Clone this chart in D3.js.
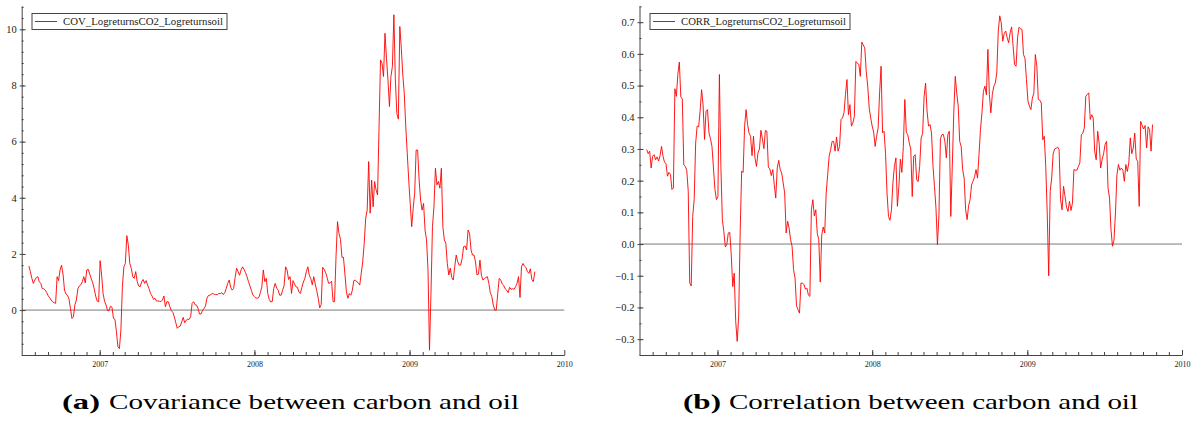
<!DOCTYPE html>
<html>
<head>
<meta charset="utf-8">
<script src="https://cdn.jsdelivr.net/npm/d3@7"></script>
<style>
  body { margin: 0; background: #fff; }
  svg { display: block; }
</style>
</head>
<body>
<svg id="chart" width="1201" height="421"></svg>
<script>
// samples every 3.5 days, starting 18 July 2006
const startDate = Date.UTC(2006, 6, 18);
const stepHours = 84;

const covValues = [
  1.57, 1.37, 1.13, 0.95, 1.07, 1.16, 1.19, 1.01, 0.95, 0.77,
  0.76, 0.71, 0.62, 0.51, 0.44, 0.36, 0.29, 0.26, 0.24, 1.19,
  1.05, 1.43, 1.6, 1.28, 0.71, 0.57, 0.52, 0.4, 0.06, -0.3,
  -0.24, 0.19, 0.36, 0.76, 0.86, 0.9, 1.01, 1.19, 0.97, 1.43,
  1.45, 1.28, 1.12, 0.97, 0.76, 0.5, 0.32, 0.29, 1.76, 1.25,
  0.59, 0.31, 0.18, -0.02, -0.02, 0.14, 0.1, -0.3, -0.33, -0.77,
  -1.31, -1.37, -0.71, 0.83, 1.54, 1.66, 2.65, 2.32, 1.66, 1.49,
  1.19, 1.13, 1.37, 1.01, 0.86, 0.83, 1.01, 1.09, 0.95, 1.05,
  0.89, 0.76, 0.59, 0.5, 0.38, 0.42, 0.32, 0.33, 0.31, 0.3,
  0.36, 0.5, 0.12, 0.3, 0.29, 0.12, -0.02, -0.08, -0.24, -0.45,
  -0.65, -0.59, -0.57, -0.42, -0.26, -0.45, -0.36, -0.33, -0.33, -0.24,
  0.24, 0.3, 0.19, 0.18, 0.06, -0.14, -0.14, -0.02, 0.06, 0.14,
  0.42, 0.52, 0.53, 0.57, 0.59, 0.56, 0.55, 0.55, 0.59, 0.59,
  0.62, 0.55, 0.62, 0.77, 0.95, 1.07, 0.81, 0.71, 0.77, 1.16,
  1.49, 1.37, 1.24, 1.43, 1.54, 1.45, 1.33, 1.19, 1.01, 0.86,
  0.69, 0.53, 0.48, 0.43, 0.42, 0.45, 0.62, 0.83, 1.43, 1.01,
  1.13, 0.59, 0.38, 0.29, 0.3, 0.77, 0.95, 0.78, 0.71, 0.53,
  0.53, 0.71, 0.87, 1.54, 1.43, 1.09, 1.19, 0.59, 1.05, 0.93,
  0.83, 0.81, 0.64, 0.59, 0.81, 1.0, 1.13, 1.37, 1.54, 1.24,
  1.12, 0.9, 1.19, 0.93, 0.69, 0.42, 0.08, 0.2, 1.52, 1.45,
  1.33, 1.16, 0.95, 0.97, 1.03, 0.3, 0.3, 1.9, 3.15, 2.73,
  2.52, 1.88, 1.88, 1.28, 0.65, 0.42, 0.59, 0.53, 0.71, 1.05,
  1.07, 1.01, 0.97, 0.89, 1.31, 1.72, 2.38, 3.27, 3.56, 5.29,
  3.45, 4.63, 3.68, 4.58, 4.28, 4.1, 6.54, 8.91, 8.79, 8.32,
  9.86, 8.97, 8.2, 7.25, 8.32, 8.68, 10.52, 8.2, 7.0, 6.8,
  10.1, 9.33, 8.38, 7.72, 6.54, 5.59, 4.63, 3.8, 2.97, 3.62,
  4.16, 5.7, 5.7, 4.63, 3.92, 3.56, 3.8, 2.85, 2.5, 1.43,
  -1.43, 0.59, 2.97, 3.68, 5.05, 4.46, 4.58, 4.34, 5.05, 2.97,
  2.5, 2.38, 1.66, 1.25, 1.49, 1.16, 1.07, 1.54, 1.96, 1.72,
  1.6, 1.6, 1.84, 2.26, 2.28, 2.14, 2.85, 2.73, 2.14, 1.96,
  1.96, 1.72, 1.25, 1.28, 1.78, 1.24, 1.07, 1.12, 1.16, 1.19,
  0.95, 0.62, 0.48, 0.18, 0.0, 0.0, 0.59, 1.13, 1.07, 0.93,
  0.88, 0.76, 0.71, 0.62, 0.81, 0.74, 0.76, 0.74, 0.83, 0.95,
  1.19, 0.45, 1.54, 1.66, 1.57, 1.52, 1.37, 1.31, 1.47, 1.09,
  1.01, 1.37
];

const corrValues = [
  0.298, 0.285, 0.293, 0.24, 0.277, 0.282, 0.266, 0.275, 0.262, 0.279,
  0.308, 0.277, 0.258, 0.254, 0.214, 0.226, 0.22, 0.172, 0.177, 0.49,
  0.466, 0.535, 0.574, 0.464, 0.458, 0.25, 0.245, 0.233, 0.166, -0.123,
  -0.132, 0.087, 0.14, 0.319, 0.372, 0.37, 0.419, 0.487, 0.44, 0.33,
  0.419, 0.424, 0.35, 0.332, 0.308, 0.24, 0.172, 0.14, 0.15, 0.535,
  0.245, 0.077, 0.04, -0.009, -0.002, 0.035, 0.037, -0.034, -0.134, -0.092,
  -0.244, -0.307, -0.228, 0.035, 0.23, 0.226, 0.372, 0.424, 0.377, 0.35,
  0.34, 0.279, 0.34, 0.271, 0.245, 0.287, 0.3, 0.359, 0.332, 0.301,
  0.358, 0.356, 0.243, 0.237, 0.216, 0.235, 0.187, 0.145, 0.24, 0.264,
  0.235, 0.224, 0.193, 0.161, 0.035, 0.072, 0.05, 0.014, -0.007, -0.081,
  -0.107, -0.195, -0.207, -0.218, -0.123, -0.123, -0.128, -0.142, -0.139, -0.161,
  -0.165, 0.108, 0.14, 0.089, 0.108, 0.033, 0.014, -0.12, 0.029, 0.054,
  0.035, 0.161, 0.219, 0.277, 0.298, 0.324, 0.324, 0.293, 0.338, 0.293,
  0.308, 0.393, 0.398, 0.414, 0.472, 0.519, 0.408, 0.44, 0.372, 0.382,
  0.403, 0.576, 0.57, 0.567, 0.529, 0.637, 0.628, 0.619, 0.545, 0.498,
  0.429, 0.398, 0.372, 0.353, 0.308, 0.34, 0.366, 0.477, 0.561, 0.351,
  0.356, 0.285, 0.161, 0.087, 0.075, 0.108, 0.195, 0.245, 0.272, 0.119,
  0.182, 0.268, 0.226, 0.308, 0.456, 0.353, 0.345, 0.319, 0.3, 0.15,
  0.277, 0.282, 0.203, 0.197, 0.245, 0.335, 0.348, 0.466, 0.508, 0.419,
  0.372, 0.377, 0.35, 0.245, 0.182, 0.114, -0.002, 0.09, 0.332, 0.345,
  0.346, 0.324, 0.272, 0.345, 0.356, 0.087, 0.245, 0.414, 0.529, 0.477,
  0.435, 0.324, 0.308, 0.235, 0.208, 0.108, 0.077, 0.121, 0.14, 0.187,
  0.198, 0.212, 0.235, 0.208, 0.282, 0.361, 0.414, 0.482, 0.498, 0.471,
  0.614, 0.472, 0.414, 0.472, 0.498, 0.508, 0.54, 0.672, 0.72, 0.698,
  0.64, 0.664, 0.672, 0.651, 0.635, 0.666, 0.685, 0.624, 0.566, 0.561,
  0.651, 0.684, 0.679, 0.677, 0.598, 0.586, 0.519, 0.451, 0.435, 0.424,
  0.461, 0.477, 0.598, 0.561, 0.456, 0.454, 0.445, 0.329, 0.34, 0.245,
  0.098, -0.1, 0.166, 0.208, 0.285, 0.3, 0.302, 0.306, 0.298, 0.14,
  0.108, 0.182, 0.151, 0.117, 0.103, 0.135, 0.106, 0.129, 0.235, 0.233,
  0.233, 0.245, 0.256, 0.345, 0.35, 0.366, 0.466, 0.472, 0.477, 0.393,
  0.408, 0.398, 0.293, 0.266, 0.356, 0.319, 0.24, 0.266, 0.285, 0.314,
  0.324, 0.177, 0.145, 0.045, -0.007, 0.012, 0.098, 0.219, 0.251, 0.233,
  0.24, 0.233, 0.198, 0.251, 0.229, 0.256, 0.335, 0.285, 0.303, 0.35,
  0.268, 0.261, 0.119, 0.387, 0.374, 0.363, 0.374, 0.303, 0.37, 0.361,
  0.293, 0.377
];

const yearTicks = [2007, 2008, 2009, 2010];
const covTicks = [0, 2, 4, 6, 8, 10];
const corrTicks = [-0.3, -0.2, -0.1, 0, 0.1, 0.2, 0.3, 0.4, 0.5, 0.6, 0.7];

const svg = d3.select("#chart");
const serif = '"Liberation Serif"';

const panels = [
  {
    values: covValues, name: "COV_LogreturnsCO2_Logreturnsoil",
    x0: 21.7, x1: 564.3, yDomain: [-1.6, 10.83], ticks: covTicks, minorStep: 0.4,
    fmt: d3.format("d"), legendX: 32, legendW: 195,
    tag: "(a)", caption: "Covariance between carbon and oil", capX: 62, capTextX: 109, capW: 410
  },
  {
    values: corrValues, name: "CORR_LogreturnsCO2_Logreturnsoil",
    x0: 639.5, x1: 1182, yDomain: [-0.35, 0.751], ticks: corrTicks, minorStep: 0.05,
    fmt: d3.format(".1f"), legendX: 650, legendW: 200,
    tag: "(b)", caption: "Correlation between carbon and oil", capX: 683, capTextX: 729, capW: 409
  }
];

panels.forEach(p => {
  const x = d3.scaleUtc()
    .domain([new Date(Date.UTC(2006, 6, 1)), new Date(Date.UTC(2010, 0, 1))])
    .range([p.x0, p.x1]);
  const y = d3.scaleLinear().domain(p.yDomain).range([355, 6]);

  const data = p.values.map((v, i) => ({ date: d3.utcHour.offset(new Date(startDate), i * stepHours), value: v }));

  const g = svg.append("g");

  // zero line
  g.append("line")
    .attr("x1", p.x0).attr("x2", p.x1)
    .attr("y1", y(0)).attr("y2", y(0))
    .attr("stroke", "#7a7a7a").attr("stroke-width", 1);

  // series
  g.append("path")
    .datum(data)
    .attr("fill", "none")
    .attr("stroke", "#ff0000")
    .attr("stroke-width", 1)
    .attr("stroke-opacity", 0.9)
    .attr("stroke-linejoin", "round")
    .attr("d", d3.line().x(d => x(d.date)).y(d => y(d.value)));

  // x axis: monthly minor ticks, yearly labelled ticks
  const months = d3.utcMonth.range(new Date(Date.UTC(2006, 7, 1)), new Date(Date.UTC(2010, 0, 1)));
  g.append("g")
    .attr("transform", "translate(0,355)")
    .call(d3.axisBottom(x).tickValues(months).tickSize(-3).tickFormat(""))
    .call(a => a.select(".domain").remove());
  const xAxis = g.append("g")
    .attr("transform", "translate(0,355)")
    .call(d3.axisBottom(x)
      .tickValues(yearTicks.map(yr => new Date(Date.UTC(yr, 0, 1))))
      .tickSize(-5).tickSizeOuter(0).tickPadding(6)
      .tickFormat(d3.utcFormat("%Y")));
  xAxis.selectAll("text")
    .style("font-family", serif).style("font-size", "8px").attr("fill", "#222");

  // y axis: minor ticks, major ticks crossing the axis
  const k0 = Math.ceil(p.yDomain[0] / p.minorStep - 1e-6);
  const k1 = Math.floor(p.yDomain[1] / p.minorStep + 1e-6);
  const minors = d3.range(k0, k1 + 1).map(k => +(k * p.minorStep).toFixed(3));
  g.append("g")
    .attr("transform", `translate(${p.x0},0)`)
    .call(d3.axisRight(y).tickValues(minors).tickSize(2).tickFormat(""))
    .call(a => a.select(".domain").remove());
  g.append("g")
    .attr("transform", `translate(${p.x0},0)`)
    .call(d3.axisRight(y).tickValues(p.ticks).tickSize(4).tickFormat(""))
    .call(a => a.select(".domain").remove());
  const yAxis = g.append("g")
    .attr("transform", `translate(${p.x0},0)`)
    .call(d3.axisLeft(y).tickValues(p.ticks).tickSize(2).tickSizeOuter(0).tickPadding(3).tickFormat(p.fmt));
  yAxis.selectAll("text")
    .style("font-family", serif).style("font-size", "10.5px").attr("fill", "#222");

  g.selectAll(".domain, .tick line").attr("stroke", "#444");

  // legend
  const lg = g.append("g");
  lg.append("rect")
    .attr("x", p.legendX).attr("y", 13.5)
    .attr("width", p.legendW).attr("height", 16)
    .attr("fill", "#fff").attr("stroke", "#444").attr("stroke-width", 1);
  lg.append("line")
    .attr("x1", p.legendX + 3).attr("x2", p.legendX + 25)
    .attr("y1", 21.5).attr("y2", 21.5)
    .attr("stroke", "#ff0000").attr("stroke-width", 1);
  lg.append("text")
    .attr("x", p.legendX + 31).attr("y", 25)
    .attr("textLength", p.legendW - 35).attr("lengthAdjust", "spacingAndGlyphs")
    .style("font-family", serif).style("font-size", "10.5px")
    .attr("fill", "#222")
    .text(p.name);

  // caption
  svg.append("text")
    .attr("x", p.capX).attr("y", 409)
    .attr("textLength", 38).attr("lengthAdjust", "spacingAndGlyphs")
    .style("font-family", serif).style("font-size", "22px").style("font-weight", "bold")
    .text(p.tag);
  svg.append("text")
    .attr("x", p.capTextX).attr("y", 409)
    .attr("textLength", p.capW).attr("lengthAdjust", "spacingAndGlyphs")
    .style("font-family", serif).style("font-size", "22px")
    .text(p.caption);
});
</script>
</body>
</html>
